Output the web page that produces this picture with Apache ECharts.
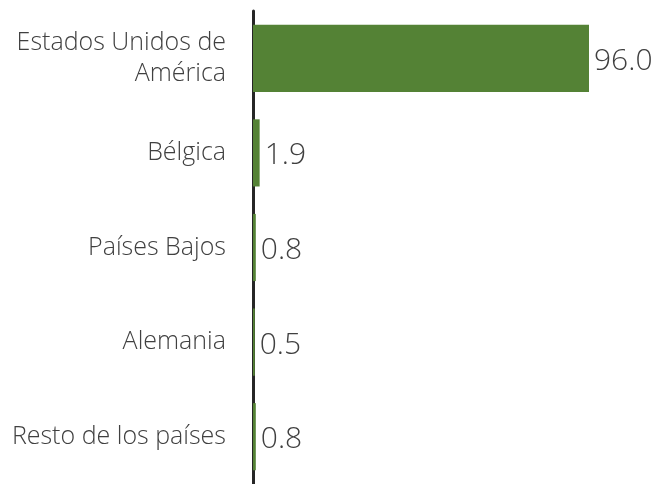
<!DOCTYPE html>
<html>
<head>
<meta charset="utf-8">
<script src="https://cdn.jsdelivr.net/npm/echarts@6/dist/echarts.min.js"></script>
<style>
  html, body { margin: 0; padding: 0; background: #fff; }
  #main { width: 653px; height: 484px; }
</style>
</head>
<body>
<div id="main"></div>
<script>
// 国家 / 份额（%）
var paises = ['Estados Unidos de\nAmérica', 'Bélgica', 'Países Bajos', 'Alemania', 'Resto de los países'];
var valores = [96.0, 1.9, 0.8, 0.5, 0.8];

var myChart = echarts.init(document.getElementById('main'));
var option = {
	animation: false,
	grid: {
		left: 253,
		width: 350,
		top: 11,
		height: 480
	},
	xAxis: {
		type: 'value',
		min: 0,
		max: 100,
		show: false
	},
	yAxis: {
		type: 'category',
		inverse: true,
		data: paises,
		axisTick: { show: false },
		axisLine: {
			lineStyle: {
				color: '#262626',
				width: 3
			}
		},
		axisLabel: {
			margin: 27,
			color: '#404040',
			fontFamily: 'Open Sans',
			fontWeight: 300,
			fontSize: 25,
			lineHeight: 31,
			padding: [6, 0, 0, 0],
			align: 'right'
		}
	},
	series: [{
		type: 'bar',
		data: valores,
		barCategoryGap: '29%',
		itemStyle: {
			color: '#548235'
		},
		label: {
			show: true,
			position: 'right',
			distance: 5,
			offset: [0, 3],
			color: '#404040',
			fontFamily: 'Open Sans',
			fontWeight: 300,
			fontSize: 30,
			formatter: function (p) {
				return p.value.toFixed(1);
			}
		}
	}]
};
myChart.setOption(option);
</script>
</body>
</html>
